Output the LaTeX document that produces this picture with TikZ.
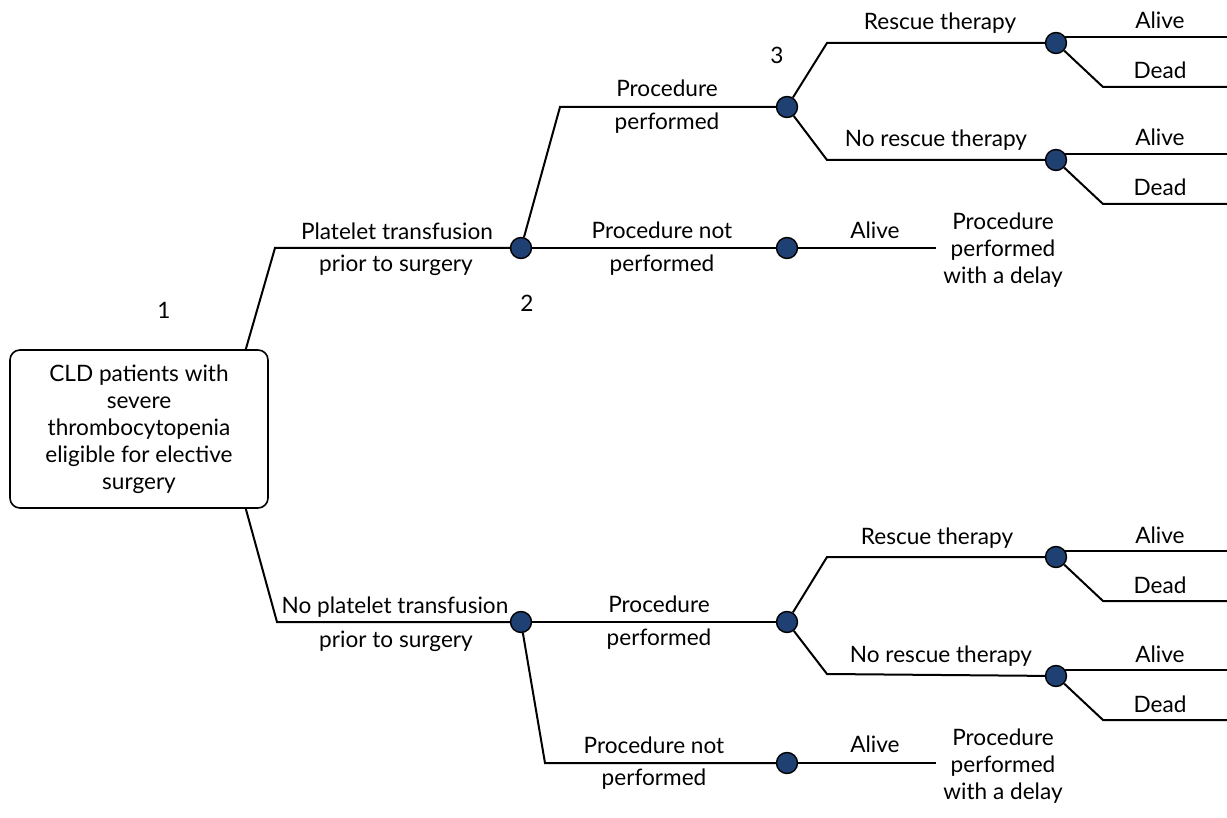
\documentclass[tikz,border=0pt]{standalone}
\usepackage{fontspec}
\setmainfont{Lato}
\usetikzlibrary{calc}
\definecolor{chancefill}{HTML}{1F4073}

\begin{document}
\begin{tikzpicture}[x=1pt, y=-1pt, line width=2pt,
    every node/.style={font=\fontsize{22.6}{27}\selectfont},
    chance/.style={circle, draw=black, line width=1.4pt, fill=chancefill, minimum size=21pt, inner sep=0pt},
    start/.style={draw, rounded corners=10pt, line width=1.6pt, minimum width=258pt, minimum height=158pt, align=center, inner sep=0pt},
    lbl/.style={anchor=base, inner sep=0pt},
    endtext/.style={align=center, inner sep=0pt}]
  \useasboundingbox (0,0) rectangle (1227,818);

  % decision and chance nodes
  \node[start] (root) at (139,429) {CLD patients with\\severe\\thrombocytopenia\\eligible for elective\\surgery};
  \node[chance] (c1) at (521,248) {};
  \node[chance] (c2) at (521,622) {};
  \node[chance] (c3) at (787,107) {};
  \node[chance] (c4) at (787,248) {};
  \node[chance] (c5) at (787,622) {};
  \node[chance] (c6) at (787,763) {};
  \node[chance] (c7) at (1056,43) {};
  \node[chance] (c8) at (1056,160) {};
  \node[chance] (c9) at (1056,557) {};
  \node[chance] (c10) at (1056,676) {};

  % corners of the branches
  \coordinate (k1) at (275,248);
  \coordinate (k2) at (277,622);
  \coordinate (k3) at (560,107);
  \coordinate (k6) at (545,763);
  \coordinate (k7) at (827,43);
  \coordinate (k8) at (827,160);
  \coordinate (k9) at (827,557);
  \coordinate (k10) at (827,674);
  \coordinate (rim) at (1227,0);

  % branches
  \draw ([xshift=-23pt]root.north east) -- (k1) -- (c1);
  \draw ([xshift=-23pt]root.south east) -- (k2) -- (c2);
  \draw (c1) -- (k3) -- (c3);
  \draw (c1) -- (c4);
  \draw (c2) -- (c5);
  \draw (c2) -- (k6) -- (c6);
  \draw (c3) -- (k7) -- (c7);
  \draw (c3) -- (k8) -- (c8);
  \draw (c5) -- (k9) -- (c9);
  \draw (c5) -- (k10) -- (c10);

  % end of the not performed branches
  \node[endtext] (d1) at (1003,250) {Procedure\\performed\\with a delay};
  \node[endtext] (d2) at (1003,766) {Procedure\\performed\\with a delay};
  \draw (c4) -- ([xshift=-6pt]c4 -| d1.west);
  \draw (c6) -- ([xshift=-6pt]c6 -| d2.west);

  % alive / dead outcomes
  \foreach \c in {c7,c8,c9,c10} {
    \draw (\c.35) -- (\c.35 -| rim);
    \path (\c) ++(47,44) coordinate (\c-d);
    \draw (\c.-43) -- (\c-d) -- (\c-d -| rim);
    \path (\c) ++(104,-14) node[lbl] (\c-alive) {Alive};
    \path (\c) ++(104,36) node[lbl] (\c-dead) {Dead};
  }

  % branch labels
  \node[lbl] (t1a) at (397,240) {Platelet transfusion};
  \node[lbl] (t1b) at (396,272) {prior to surgery};
  \node[lbl] (t2a) at (395,613) {No platelet transfusion};
  \node[lbl] (t2b) at (396,647) {prior to surgery};
  \node[lbl] (t3a) at (667,97) {Procedure};
  \node[lbl] (t3b) at (667,130) {performed};
  \node[lbl] (t4a) at (662,239) {Procedure not};
  \node[lbl] (t4b) at (662,272) {performed};
  \node[lbl] (t5a) at (659,612) {Procedure};
  \node[lbl] (t5b) at (659,645) {performed};
  \node[lbl] (t6a) at (654,753) {Procedure not};
  \node[lbl] (t6b) at (654,785) {performed};
  \node[lbl] (t7) at (940,30) {Rescue therapy};
  \node[lbl] (t8) at (936,147) {No rescue therapy};
  \node[lbl] (t9) at (937,544) {Rescue therapy};
  \node[lbl] (t10) at (941,662) {No rescue therapy};
  \node[lbl] (a4) at (875,239) {Alive};
  \node[lbl] (a6) at (875,752) {Alive};

  % node numbers
  \node[lbl] (n1) at (164,319) {1};
  \node[lbl] (n2) at (527,312) {2};
  \node[lbl] (n3) at (777,64) {3};
\end{tikzpicture}
\end{document}
